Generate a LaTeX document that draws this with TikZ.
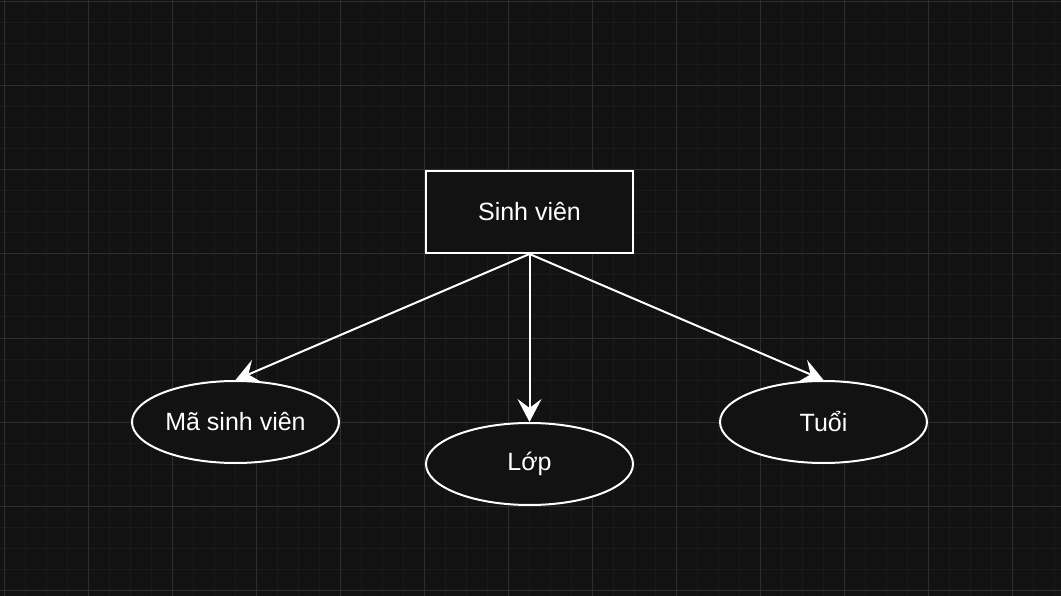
\documentclass[tikz,border=0pt]{standalone}
\usepackage{fontspec}
\setmainfont{Liberation Sans}
\usetikzlibrary{shapes.geometric,arrows.meta}
\definecolor{bgc}{RGB}{18,18,18}
\definecolor{minorc}{RGB}{26,26,26}
\definecolor{majorc}{RGB}{46,46,46}
\begin{document}
\begin{tikzpicture}[x=1pt,y=-1pt,
  boxst/.style={draw=white,line width=2pt,fill=bgc,minimum width=207pt,minimum height=82pt,inner sep=0pt,text=white,font=\fontsize{25}{29}\selectfont},
  ellst/.style={ellipse,draw=white,line width=2pt,fill=bgc,minimum width=207pt,minimum height=82pt,inner sep=0pt,text=white,font=\fontsize{25}{29}\selectfont},
  arr/.style={draw=white,line width=2pt,-{Stealth[length=23pt,width=24pt,inset=9pt]}},
  minorln/.style={draw=minorc,line width=1pt},
  majorln/.style={draw=majorc,line width=1pt}]
\useasboundingbox (0,0) rectangle (1061,596);
\fill[bgc] (0,0) rectangle (1061,596);
\foreach \x in {4,25,...,1061} \draw[minorln] (\x,0) -- (\x,596);
\foreach \y in {2,23,...,596} \draw[minorln] (0,\y) -- (1061,\y);
\foreach \x in {4,88,...,1061} \draw[majorln] (\x,0) -- (\x,596);
\foreach \y in {2,86,...,596} \draw[majorln] (0,\y) -- (1061,\y);
\node[boxst] (sv) at (529.5,212) {Sinh viên};
\node[ellst] (ma) at (235.5,422) {Mã sinh viên};
\node[ellst] (lop) at (529.5,464) {Lớp};
\node[ellst] (tuoi) at (823.5,422) {Tuổi};
\draw[arr] (sv.south) -- (ma.north);
\draw[arr] (sv.south) -- (lop.north);
\draw[arr] (sv.south) -- (tuoi.north);
\end{tikzpicture}
\end{document}
